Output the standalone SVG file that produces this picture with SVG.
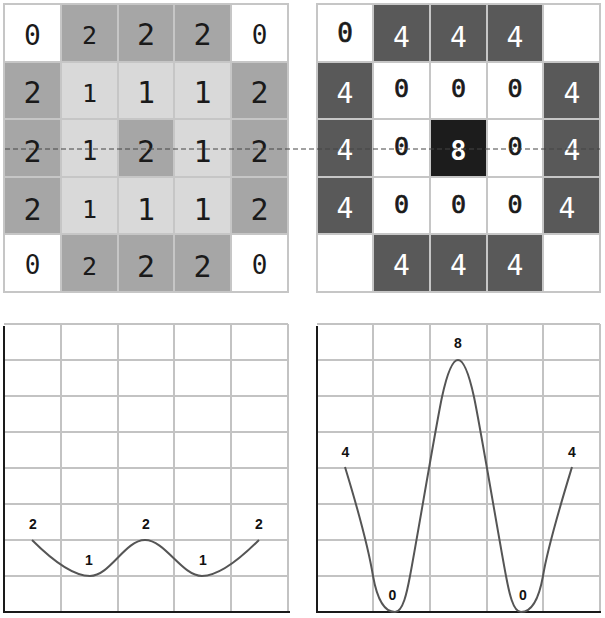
<svg xmlns="http://www.w3.org/2000/svg" width="605" height="618" viewBox="0 0 605 618">
<style>
.c{stroke:#c6c6c6;stroke-width:2}
.w{fill:#ffffff}
.m{fill:#a6a6a6}
.l{fill:#d9d9d9}
.d{fill:#595959}
.k{fill:#1c1c1c}
.t{font-family:"DejaVu Sans Mono","Liberation Mono",monospace;text-anchor:middle;fill:#1a1a1a}
.tw{font-family:"DejaVu Sans Mono","Liberation Mono",monospace;text-anchor:middle;fill:#ffffff}
.z{stroke:#1a1a1a;stroke-width:0.7}
.g{stroke:#c3c3c3;stroke-width:2;fill:none}
.ax{stroke:#1a1a1a;stroke-width:2;fill:none}
.cv{stroke:#555555;stroke-width:2;fill:none}
.lb{font-family:"Liberation Sans",Arial,sans-serif;font-weight:bold;font-size:14px;text-anchor:middle;fill:#111111}
</style>
<g id="grid-left">
<rect class="c w" x="4" y="4" width="57" height="58"/>
<rect class="c m" x="61" y="4" width="57" height="58"/>
<rect class="c m" x="118" y="4" width="56" height="58"/>
<rect class="c m" x="174" y="4" width="57" height="58"/>
<rect class="c w" x="231" y="4" width="57" height="58"/>
<rect class="c m" x="4" y="62" width="57" height="57"/>
<rect class="c l" x="61" y="62" width="57" height="57"/>
<rect class="c l" x="118" y="62" width="56" height="57"/>
<rect class="c l" x="174" y="62" width="57" height="57"/>
<rect class="c m" x="231" y="62" width="57" height="57"/>
<rect class="c m" x="4" y="119" width="57" height="58"/>
<rect class="c l" x="61" y="119" width="57" height="58"/>
<rect class="c m" x="118" y="119" width="56" height="58"/>
<rect class="c l" x="174" y="119" width="57" height="58"/>
<rect class="c m" x="231" y="119" width="57" height="58"/>
<rect class="c m" x="4" y="177" width="57" height="57"/>
<rect class="c l" x="61" y="177" width="57" height="57"/>
<rect class="c l" x="118" y="177" width="56" height="57"/>
<rect class="c l" x="174" y="177" width="57" height="57"/>
<rect class="c m" x="231" y="177" width="57" height="57"/>
<rect class="c w" x="4" y="234" width="57" height="58"/>
<rect class="c m" x="61" y="234" width="57" height="58"/>
<rect class="c m" x="118" y="234" width="56" height="58"/>
<rect class="c m" x="174" y="234" width="57" height="58"/>
<rect class="c w" x="231" y="234" width="57" height="58"/>
<g class="t" font-size="30">
<text x="32.5" y="45" font-size="28">0</text><text x="89.5" y="44" font-size="25">2</text><text x="146" y="45">2</text><text x="202.5" y="45">2</text><text x="259.5" y="44" font-size="26">0</text>
<text x="32.5" y="103">2</text><text x="89.5" y="102" font-size="25">1</text><text x="146" y="103">1</text><text x="202.5" y="103">1</text><text x="259.5" y="103">2</text>
<text x="32.5" y="162">2</text><text x="89.5" y="160" font-size="26">1</text><text x="146" y="162">2</text><text x="202.5" y="162">1</text><text x="259.5" y="162">2</text>
<text x="32.5" y="220">2</text><text x="89.5" y="218" font-size="25">1</text><text x="146" y="220">1</text><text x="202.5" y="220">1</text><text x="259.5" y="220">2</text>
<text x="32.5" y="274" font-size="26">0</text><text x="89.5" y="275" font-size="25">2</text><text x="146" y="277">2</text><text x="202.5" y="277">2</text><text x="259.5" y="274" font-size="26">0</text>
</g>
</g>
<g id="grid-right">
<rect class="c w" x="317" y="4" width="56" height="58"/>
<rect class="c d" x="373" y="4" width="57" height="58"/>
<rect class="c d" x="430" y="4" width="57" height="58"/>
<rect class="c d" x="487" y="4" width="56" height="58"/>
<rect class="c w" x="543" y="4" width="57" height="58"/>
<rect class="c d" x="317" y="62" width="56" height="57"/>
<rect class="c w" x="373" y="62" width="57" height="57"/>
<rect class="c w" x="430" y="62" width="57" height="57"/>
<rect class="c w" x="487" y="62" width="56" height="57"/>
<rect class="c d" x="543" y="62" width="57" height="57"/>
<rect class="c d" x="317" y="119" width="56" height="58"/>
<rect class="c w" x="373" y="119" width="57" height="58"/>
<rect class="c k" x="430" y="119" width="57" height="58"/>
<rect class="c w" x="487" y="119" width="56" height="58"/>
<rect class="c d" x="543" y="119" width="57" height="58"/>
<rect class="c d" x="317" y="177" width="56" height="57"/>
<rect class="c w" x="373" y="177" width="57" height="57"/>
<rect class="c w" x="430" y="177" width="57" height="57"/>
<rect class="c w" x="487" y="177" width="56" height="57"/>
<rect class="c d" x="543" y="177" width="57" height="57"/>
<rect class="c w" x="317" y="234" width="56" height="58"/>
<rect class="c d" x="373" y="234" width="57" height="58"/>
<rect class="c d" x="430" y="234" width="57" height="58"/>
<rect class="c d" x="487" y="234" width="56" height="58"/>
<rect class="c w" x="543" y="234" width="57" height="58"/>
<g class="t z" font-size="25">
<text x="345" y="42" font-size="26">0</text>
<text x="401.5" y="97">0</text><text x="458.5" y="97">0</text><text x="515" y="97">0</text>
<text x="401.5" y="155">0</text><text x="515" y="155">0</text>
<text x="401.5" y="213">0</text><text x="458.5" y="213">0</text><text x="515" y="213">0</text>
</g>
<g class="tw" font-size="28">
<text x="401.5" y="47">4</text><text x="458.5" y="47">4</text><text x="515" y="47">4</text>
<text x="345" y="103">4</text><text x="572" y="103">4</text>
<text x="345" y="160">4</text><text x="572" y="160">4</text>
<text x="345" y="218">4</text><text x="567" y="218">4</text>
<text x="401.5" y="275">4</text><text x="458.5" y="275">4</text><text x="515" y="275">4</text>
<text x="458.5" y="160" font-weight="bold" font-size="27">8</text>
</g>
</g>
<g id="section-line">
<line x1="5" y1="149" x2="600" y2="149" stroke="#444444" stroke-width="1" stroke-dasharray="5 3"/>
</g>
<g id="chart-left">
<path class="g" d="M4,324H288M4,360H288M4,396H288M4,432H288M4,468H288M4,504H288M4,540H288M4,576H288M61,324V612M118,324V612M174,324V612M231,324V612M288,324V612"/>
<path class="ax" d="M4,326V612H290"/>
<path class="cv" d="M32,540 C44,552 70,576 90,576 C110,576 125,540 145,540 C165,540 182,576 202,576 C222,576 247,552 259,540"/>
<text class="lb" x="33" y="529">2</text>
<text class="lb" x="89" y="565">1</text>
<text class="lb" x="146" y="529">2</text>
<text class="lb" x="203" y="565">1</text>
<text class="lb" x="259" y="529">2</text>
</g>
<g id="chart-right">
<path class="g" d="M317,324H600M317,360H600M317,396H600M317,432H600M317,468H600M317,504H600M317,540H600M317,576H600M373,324V612M430,324V612M487,324V612M543,324V612M600,324V612"/>
<path class="ax" d="M317,326V612H601"/>
<path class="cv" d="M345,467 C352,490 368,545 373,576 C378,604 386,612 395,612 C403,612 407,592 410,576 C416,545 436,425 442,397 C447,374 452,360 458,360 C464,360 469,374 474,397 C480,425 500,545 506,576 C509,592 513,612 521,612 C530,612 538,604 543,576 C548,545 565,490 572,467"/>
<text class="lb" x="345.5" y="457">4</text>
<text class="lb" x="392.5" y="600">0</text>
<text class="lb" x="458" y="348">8</text>
<text class="lb" x="523" y="600">0</text>
<text class="lb" x="572" y="457">4</text>
</g>
</svg>
